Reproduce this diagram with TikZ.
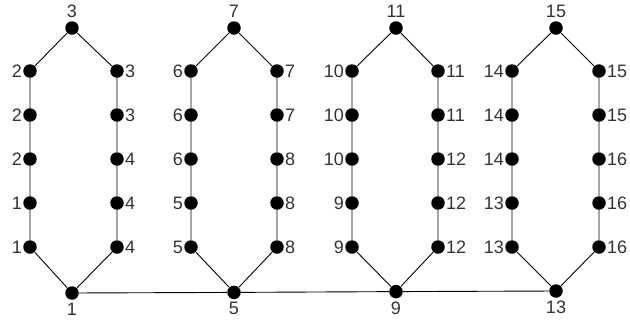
\documentclass[tikz,border=0pt]{standalone}
\usepackage{fontspec}
\setmainfont{Liberation Sans}
\tikzset{
  vtx/.style={circle,fill=black,inner sep=0pt,minimum size=13.5pt},
  lbl/.style={font=\fontsize{18}{18}\selectfont,text=black!80,inner sep=0.5pt}
}
\begin{document}
\begin{tikzpicture}[x=1pt,y=-1pt,line width=0.9pt]
\useasboundingbox (0,0) rectangle (630,322);
% one cycle per group
\foreach \k/\xl/\xm/\xr/\yb/\nt/\nb/\ls/\rs in {
  a/30/72/117/293/3/1/{2,2,2,1,1}/{3,3,4,4,4},
  b/191/234/277/292.4/7/5/{6,6,6,5,5}/{7,7,8,8,8},
  c/352/396/438/291.6/11/9/{10,10,10,9,9}/{11,11,12,12,12},
  d/512/556/599/291/15/13/{14,14,14,13,13}/{15,15,16,16,16}}{
  \node[vtx,label={[lbl,label distance=2pt]above:\nt}] (top\k) at (\xm,28) {};
  \node[vtx,label={[lbl,label distance=2pt]below:\nb}] (bot\k) at (\xm,\yb) {};
  \foreach \n [count=\i] in \ls
    \node[vtx,label={[lbl]left:\n}] (left\k\i) at (\xl,27+44*\i) {};
  \foreach \n [count=\i] in \rs
    \node[vtx,label={[lbl]right:\n}] (right\k\i) at (\xr,27+44*\i) {};
  \draw (top\k) -- (left\k1) -- (left\k2) -- (left\k3) -- (left\k4) -- (left\k5) -- (bot\k)
        -- (right\k5) -- (right\k4) -- (right\k3) -- (right\k2) -- (right\k1) -- (top\k);
}
\draw (bota) -- (botb) -- (botc) -- (botd);
\end{tikzpicture}
\end{document}
